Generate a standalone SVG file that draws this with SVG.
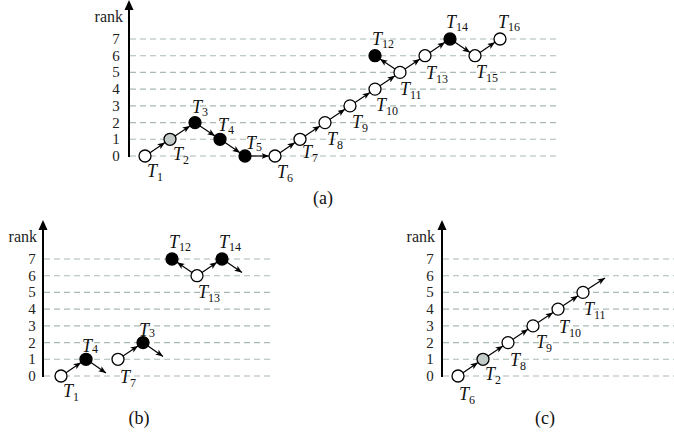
<svg xmlns="http://www.w3.org/2000/svg" width="674" height="432" viewBox="0 0 674 432">
<style>
.grid{stroke:#a9bab4;stroke-width:1.1;stroke-dasharray:6,4;fill:none}
.axis{stroke:#000;stroke-width:2;fill:none}
.edge{stroke:#000;stroke-width:1.2;fill:none;marker-end:url(#ah)}
.open{fill:#fff;stroke:#000;stroke-width:1.3}
.full{fill:#000;stroke:#000;stroke-width:1.3}
.gray{fill:#c3cbc9;stroke:#000;stroke-width:1.3}
.num{font-family:"Liberation Serif","DejaVu Serif",serif;font-size:15px;text-anchor:middle;fill:#222}
.rank{font-family:"Liberation Serif","DejaVu Serif",serif;font-size:16px;text-anchor:end;fill:#222}
.lbl{font-family:"Liberation Serif","DejaVu Serif",serif;font-size:18px;fill:#111}
.lbl .t{font-style:italic}
.lbl .s{font-size:12px}
.cap{font-family:"Liberation Serif","DejaVu Serif",serif;font-size:18px;text-anchor:middle;fill:#111}
</style>
<defs>
<marker id="ah" markerUnits="userSpaceOnUse" markerWidth="8" markerHeight="7" refX="7.5" refY="3" orient="auto">
<path d="M0,0 L7.5,3 L0,6 L1.8,3 z" fill="#000"/>
</marker>
</defs>

<!-- Panel (a) -->
<g id="panel-a-axes">
<line class="grid" x1="130" y1="39" x2="560" y2="39"/>
<line class="grid" x1="130" y1="55.7" x2="560" y2="55.7"/>
<line class="grid" x1="130" y1="72.4" x2="560" y2="72.4"/>
<line class="grid" x1="130" y1="89.1" x2="560" y2="89.1"/>
<line class="grid" x1="130" y1="105.9" x2="560" y2="105.9"/>
<line class="grid" x1="130" y1="122.6" x2="560" y2="122.6"/>
<line class="grid" x1="130" y1="139.3" x2="560" y2="139.3"/>
<line class="grid" x1="130" y1="156" x2="560" y2="156"/>
<line class="axis" x1="129" y1="157" x2="129" y2="8"/>
<path d="M124.5,10 L129,0 L133.5,10 z" fill="#000"/>
<text class="rank" x="123" y="22">rank</text>
<text class="num" x="116" y="44">7</text>
<text class="num" x="116" y="60.7">6</text>
<text class="num" x="116" y="77.4">5</text>
<text class="num" x="116" y="94.1">4</text>
<text class="num" x="116" y="110.9">3</text>
<text class="num" x="116" y="127.6">2</text>
<text class="num" x="116" y="144.3">1</text>
<text class="num" x="116" y="161">0</text>
<text class="cap" x="323" y="204">(a)</text>
</g>
<g id="connectors-a">
<line class="edge" x1="150" y1="152.7" x2="165" y2="142.6"/>
<line class="edge" x1="175" y1="136" x2="190" y2="125.9"/>
<line class="edge" x1="200" y1="125.9" x2="215" y2="136"/>
<line class="edge" x1="225" y1="142.6" x2="240" y2="152.7"/>
<line class="edge" x1="251" y1="156" x2="269" y2="156"/>
<line class="edge" x1="280" y1="152.7" x2="295" y2="142.6"/>
<line class="edge" x1="305" y1="136" x2="320" y2="125.9"/>
<line class="edge" x1="330" y1="119.3" x2="345" y2="109.2"/>
<line class="edge" x1="355" y1="102.6" x2="370" y2="92.4"/>
<line class="edge" x1="380" y1="85.8" x2="395" y2="75.7"/>
<line class="edge" x1="395" y1="69.1" x2="380" y2="59"/>
<line class="edge" x1="405" y1="69.1" x2="420" y2="59"/>
<line class="edge" x1="430" y1="52.4" x2="445" y2="42.3"/>
<line class="edge" x1="455" y1="42.3" x2="470" y2="52.4"/>
<line class="edge" x1="480" y1="52.4" x2="495" y2="42.3"/>
</g>
<g id="a-T1"><circle class="open" cx="145" cy="156" r="6"/><text class="lbl" x="147" y="177"><tspan class="t">T</tspan><tspan class="s" dy="4">1</tspan></text></g>
<g id="a-T2"><circle class="gray" cx="170" cy="139.3" r="6"/><text class="lbl" x="173" y="160"><tspan class="t">T</tspan><tspan class="s" dy="4">2</tspan></text></g>
<g id="a-T3"><circle class="full" cx="195" cy="122.6" r="6"/><text class="lbl" x="192" y="113"><tspan class="t">T</tspan><tspan class="s" dy="3">3</tspan></text></g>
<g id="a-T4"><circle class="full" cx="220" cy="139.3" r="6"/><text class="lbl" x="218" y="131"><tspan class="t">T</tspan><tspan class="s" dy="3">4</tspan></text></g>
<g id="a-T5"><circle class="full" cx="245" cy="156" r="6"/><text class="lbl" x="246" y="149"><tspan class="t">T</tspan><tspan class="s" dy="2">5</tspan></text></g>
<g id="a-T6"><circle class="open" cx="275" cy="156" r="6"/><text class="lbl" x="277" y="178"><tspan class="t">T</tspan><tspan class="s" dy="4">6</tspan></text></g>
<g id="a-T7"><circle class="open" cx="300" cy="139.3" r="6"/><text class="lbl" x="302" y="158"><tspan class="t">T</tspan><tspan class="s" dy="4">7</tspan></text></g>
<g id="a-T8"><circle class="open" cx="325" cy="122.6" r="6"/><text class="lbl" x="327" y="145"><tspan class="t">T</tspan><tspan class="s" dy="4">8</tspan></text></g>
<g id="a-T9"><circle class="open" cx="350" cy="105.9" r="6"/><text class="lbl" x="352" y="128"><tspan class="t">T</tspan><tspan class="s" dy="4">9</tspan></text></g>
<g id="a-T10"><circle class="open" cx="375" cy="89.1" r="6"/><text class="lbl" x="376" y="111"><tspan class="t">T</tspan><tspan class="s" dy="4">10</tspan></text></g>
<g id="a-T11"><circle class="open" cx="400" cy="72.4" r="6"/><text class="lbl" x="400" y="95"><tspan class="t">T</tspan><tspan class="s" dy="4">11</tspan></text></g>
<g id="a-T12"><circle class="full" cx="375" cy="55.7" r="6"/><text class="lbl" x="372" y="45"><tspan class="t">T</tspan><tspan class="s" dy="3">12</tspan></text></g>
<g id="a-T13"><circle class="open" cx="425" cy="55.7" r="6"/><text class="lbl" x="426" y="79"><tspan class="t">T</tspan><tspan class="s" dy="4">13</tspan></text></g>
<g id="a-T14"><circle class="full" cx="450" cy="39" r="6"/><text class="lbl" x="446" y="28"><tspan class="t">T</tspan><tspan class="s" dy="3">14</tspan></text></g>
<g id="a-T15"><circle class="open" cx="475" cy="55.7" r="6"/><text class="lbl" x="476" y="78"><tspan class="t">T</tspan><tspan class="s" dy="4">15</tspan></text></g>
<g id="a-T16"><circle class="open" cx="500" cy="39" r="6"/><text class="lbl" x="498" y="28"><tspan class="t">T</tspan><tspan class="s" dy="3">16</tspan></text></g>

<!-- Panel (b) -->
<g id="panel-b-axes">
<line class="grid" x1="44" y1="259" x2="272" y2="259"/>
<line class="grid" x1="44" y1="275.7" x2="272" y2="275.7"/>
<line class="grid" x1="44" y1="292.4" x2="272" y2="292.4"/>
<line class="grid" x1="44" y1="309.1" x2="272" y2="309.1"/>
<line class="grid" x1="44" y1="325.9" x2="272" y2="325.9"/>
<line class="grid" x1="44" y1="342.6" x2="272" y2="342.6"/>
<line class="grid" x1="44" y1="359.3" x2="272" y2="359.3"/>
<line class="grid" x1="44" y1="376" x2="272" y2="376"/>
<line class="axis" x1="43" y1="377" x2="43" y2="228"/>
<path d="M38.5,230 L43,220 L47.5,230 z" fill="#000"/>
<text class="rank" x="37" y="242">rank</text>
<text class="num" x="32" y="264">7</text>
<text class="num" x="32" y="280.7">6</text>
<text class="num" x="32" y="297.4">5</text>
<text class="num" x="32" y="314.1">4</text>
<text class="num" x="32" y="330.9">3</text>
<text class="num" x="32" y="347.6">2</text>
<text class="num" x="32" y="364.3">1</text>
<text class="num" x="32" y="381">0</text>
<text class="cap" x="139" y="424">(b)</text>
</g>
<g id="connectors-b">
<line class="edge" x1="66" y1="372.7" x2="81" y2="362.6"/>
<line class="edge" x1="91" y1="362.6" x2="106" y2="373"/>
<line class="edge" x1="123" y1="356" x2="138" y2="345.9"/>
<line class="edge" x1="148" y1="345.9" x2="163" y2="356.5"/>
<line class="edge" x1="192" y1="272.4" x2="177" y2="262.3"/>
<line class="edge" x1="202" y1="272.4" x2="217" y2="262.3"/>
<line class="edge" x1="227" y1="262.3" x2="242" y2="272.5"/>
</g>
<g id="b-T1"><circle class="open" cx="61" cy="376" r="6"/><text class="lbl" x="63" y="397"><tspan class="t">T</tspan><tspan class="s" dy="4">1</tspan></text></g>
<g id="b-T4"><circle class="full" cx="86" cy="359.3" r="6"/><text class="lbl" x="82" y="352"><tspan class="t">T</tspan><tspan class="s" dy="1">4</tspan></text></g>
<g id="b-T7"><circle class="open" cx="118" cy="359.3" r="6"/><text class="lbl" x="120" y="383"><tspan class="t">T</tspan><tspan class="s" dy="4">7</tspan></text></g>
<g id="b-T3"><circle class="full" cx="143" cy="342.6" r="6"/><text class="lbl" x="139" y="336"><tspan class="t">T</tspan><tspan class="s" dy="1">3</tspan></text></g>
<g id="b-T12"><circle class="full" cx="172" cy="259" r="6"/><text class="lbl" x="169" y="248"><tspan class="t">T</tspan><tspan class="s" dy="3">12</tspan></text></g>
<g id="b-T13"><circle class="open" cx="197" cy="275.7" r="6"/><text class="lbl" x="198" y="298"><tspan class="t">T</tspan><tspan class="s" dy="4">13</tspan></text></g>
<g id="b-T14"><circle class="full" cx="222" cy="259" r="6"/><text class="lbl" x="219" y="248"><tspan class="t">T</tspan><tspan class="s" dy="3">14</tspan></text></g>

<!-- Panel (c) -->
<g id="panel-c-axes">
<line class="grid" x1="443" y1="259" x2="674" y2="259"/>
<line class="grid" x1="443" y1="275.7" x2="674" y2="275.7"/>
<line class="grid" x1="443" y1="292.4" x2="674" y2="292.4"/>
<line class="grid" x1="443" y1="309.1" x2="674" y2="309.1"/>
<line class="grid" x1="443" y1="325.9" x2="674" y2="325.9"/>
<line class="grid" x1="443" y1="342.6" x2="674" y2="342.6"/>
<line class="grid" x1="443" y1="359.3" x2="674" y2="359.3"/>
<line class="grid" x1="443" y1="376" x2="674" y2="376"/>
<line class="axis" x1="442" y1="377" x2="442" y2="228"/>
<path d="M437.5,230 L442,220 L446.5,230 z" fill="#000"/>
<text class="rank" x="435" y="242">rank</text>
<text class="num" x="430" y="264">7</text>
<text class="num" x="430" y="280.7">6</text>
<text class="num" x="430" y="297.4">5</text>
<text class="num" x="430" y="314.1">4</text>
<text class="num" x="430" y="330.9">3</text>
<text class="num" x="430" y="347.6">2</text>
<text class="num" x="430" y="364.3">1</text>
<text class="num" x="430" y="381">0</text>
<text class="cap" x="545" y="424">(c)</text>
</g>
<g id="connectors-c">
<line class="edge" x1="463" y1="372.7" x2="478" y2="362.6"/>
<line class="edge" x1="488" y1="356" x2="503" y2="345.9"/>
<line class="edge" x1="513" y1="339.3" x2="528" y2="329.2"/>
<line class="edge" x1="538" y1="322.6" x2="553" y2="312.4"/>
<line class="edge" x1="563" y1="305.8" x2="578" y2="295.7"/>
<line class="edge" x1="588" y1="289.1" x2="605" y2="278"/>
</g>
<g id="c-T6"><circle class="open" cx="458" cy="376" r="6"/><text class="lbl" x="459" y="400"><tspan class="t">T</tspan><tspan class="s" dy="4">6</tspan></text></g>
<g id="c-T2"><circle class="gray" cx="483" cy="359.3" r="6"/><text class="lbl" x="485" y="380"><tspan class="t">T</tspan><tspan class="s" dy="4">2</tspan></text></g>
<g id="c-T8"><circle class="open" cx="508" cy="342.6" r="6"/><text class="lbl" x="510" y="366"><tspan class="t">T</tspan><tspan class="s" dy="4">8</tspan></text></g>
<g id="c-T9"><circle class="open" cx="533" cy="325.9" r="6"/><text class="lbl" x="536" y="348"><tspan class="t">T</tspan><tspan class="s" dy="4">9</tspan></text></g>
<g id="c-T10"><circle class="open" cx="558" cy="309.1" r="6"/><text class="lbl" x="559" y="333"><tspan class="t">T</tspan><tspan class="s" dy="4">10</tspan></text></g>
<g id="c-T11"><circle class="open" cx="583" cy="292.4" r="6"/><text class="lbl" x="584" y="315"><tspan class="t">T</tspan><tspan class="s" dy="4">11</tspan></text></g>
</svg>
